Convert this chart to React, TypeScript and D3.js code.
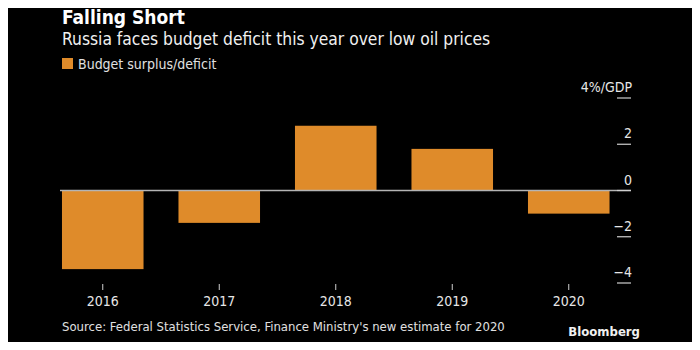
import React, { useRef, useEffect } from 'react'
import * as d3 from 'd3'

const years = ['2016', '2017', '2018', '2019', '2020']
const balance = [-3.4, -1.4, 2.8, 1.8, -1.0]
const yTicks = [4, 2, 0, -2, -4]

const FONT = "'Liberation Sans Narrow', 'DejaVu Sans Condensed', sans-serif"
const ORANGE = '#DF8B2A'

export default function App() {
  const layout = { width: 700, height: 350 }
  const ref = useRef<SVGSVGElement>(null)

  useEffect(() => {
    const svg = d3.select(ref.current)
    const g = svg.select('#plot')

    const xScale = d3.scaleBand()
      .domain(years)
      .range([44.5, 627])
      .paddingInner(0.3)
      .paddingOuter(0.15)

    const yScale = d3.scaleLinear()
      .domain([-4, 4])
      .range([283, 98])

    g.select('#bars')
      .selectAll('rect')
      .data(years.map((y, i) => ({ year: y, v: balance[i] })))
      .join('rect')
      .attr('x', d => xScale(d.year)!)
      .attr('width', xScale.bandwidth())
      .attr('y', d => yScale(Math.max(0, d.v)))
      .attr('height', d => Math.abs(yScale(d.v) - yScale(0)))
      .attr('fill', ORANGE)

    g.select('#zero')
      .selectAll('line')
      .data([0])
      .join('line')
      .attr('x1', 60)
      .attr('x2', 631)
      .attr('y1', d => yScale(d))
      .attr('y2', d => yScale(d))
      .attr('stroke', '#b4b4b4')
      .attr('stroke-width', 1.5)

    // y axis on the right: short tick lines with labels above them
    const yAxis = g.select('#y-axis')
    yAxis.selectAll('line')
      .data(yTicks)
      .join('line')
      .attr('x1', 617)
      .attr('x2', 631)
      .attr('y1', d => yScale(d))
      .attr('y2', d => yScale(d))
      .attr('stroke', '#cfcfcf')
      .attr('stroke-width', 1.2)
    yAxis.selectAll('text')
      .data(yTicks)
      .join('text')
      .attr('x', 632)
      .attr('y', d => yScale(d) - 6)
      .attr('text-anchor', 'end')
      .attr('font-family', FONT)
      .attr('font-size', 14)
      .attr('fill', '#e6e6e6')
      .text(d => (d === 4 ? '4%/GDP' : d3.format('d')(d)))

    const xAxis = g.select('#x-axis')
      .attr('transform', 'translate(0, 284)')
      .call(d3.axisBottom(xScale).tickSize(6).tickPadding(6) as any)
    xAxis.select('.domain').remove()
    xAxis.selectAll('.tick line').attr('stroke', '#cfcfcf')
    xAxis.selectAll('.tick text')
      .attr('font-family', FONT)
      .attr('font-size', 14)
      .attr('fill', '#e6e6e6')
  }, [])

  return (
    <svg ref={ref} width={layout.width} height={layout.height}
      style={{ display: 'block', margin: '-8px', background: '#000' }}>
      <rect width={layout.width} height={layout.height} fill="#000" />
      <text x={62} y={24} fill="#fff" fontFamily={FONT} fontWeight="bold" fontSize={19}>Falling Short</text>
      <text x={62} y={45} fill="#f0f0f0" fontFamily={FONT} fontSize={17.3}>Russia faces budget deficit this year over low oil prices</text>
      <rect x={62} y={58} width={11} height={11} fill={ORANGE} />
      <text x={78} y={69} fill="#e0e0e0" fontFamily={FONT} fontSize={14}>Budget surplus/deficit</text>
      <g id="plot">
        <g id="bars" />
        <g id="zero" />
        <g id="y-axis" />
        <g id="x-axis" />
      </g>
      <text x={62} y={331} fill="#e0e0e0" fontFamily={FONT} fontSize={13}>Source: Federal Statistics Service, Finance Ministry's new estimate for 2020</text>
      <text x={640} y={336} textAnchor="end" fill="#f0f0f0" fontFamily={FONT} fontWeight="bold" fontSize={13}>Bloomberg</text>
    </svg>
  )
}
